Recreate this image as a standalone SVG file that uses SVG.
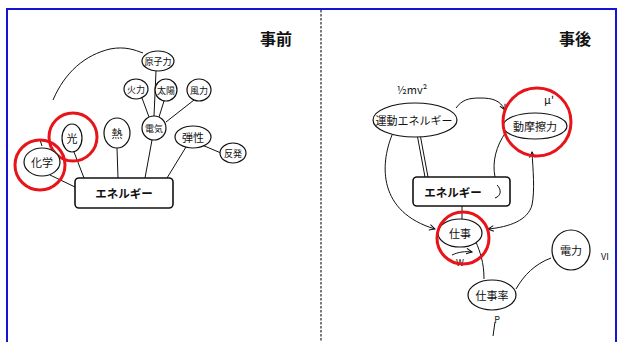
<svg xmlns="http://www.w3.org/2000/svg" width="619" height="342" viewBox="0 0 619 342">
<defs>
<style>
.bg{fill:#fff}
.frame{fill:none;stroke:#1414d8;stroke-width:2}
.div{stroke:#222;stroke-width:1.2;stroke-dasharray:2.5 1.5}
.nd{fill:#fff;stroke:#111;stroke-width:1.2}
.ln{fill:none;stroke:#111;stroke-width:1}
.red{fill:none;stroke:#e8141a;stroke-width:3}
.box{fill:#fff;stroke:#111;stroke-width:1.6}
.t{font-family:"Noto Sans CJK JP","Noto Sans",sans-serif;fill:#111;text-anchor:middle;dominant-baseline:central}
.title{font-size:16px;font-weight:bold}
.bt{font-size:11.5px;font-weight:bold}
.hw{font-size:11px}
.sm{font-size:9px}
</style>
<marker id="ah" viewBox="0 0 10 10" refX="9" refY="5" markerWidth="7" markerHeight="7" orient="auto-start-reverse" markerUnits="userSpaceOnUse">
<path d="M1,1 L9,5 L1,9" fill="none" stroke="#111" stroke-width="1.4"/>
</marker>
</defs>
<rect class="bg" x="0" y="0" width="619" height="342"/>
<path class="frame" d="M7,342 V9 H616 V342"/>
<line class="div" x1="321" y1="10" x2="321" y2="342"/>
<text class="t title" x="276" y="38">事前</text>
<text class="t title" x="575" y="38">事後</text>

<g id="connectors">
<path class="ln" d="M53,100 C65,72 85,55 110,49 C125,46 135,50 143,53"/>
<line class="ln" x1="156" y1="71" x2="154" y2="116"/>
<line class="ln" x1="142" y1="98" x2="149" y2="117"/>
<line class="ln" x1="164" y1="101" x2="159" y2="117"/>
<line class="ln" x1="194" y1="100" x2="166" y2="122"/>
<line class="ln" x1="202" y1="145" x2="221" y2="153"/>
<line class="ln" x1="50" y1="175" x2="75" y2="187"/>
<line class="ln" x1="74" y1="152" x2="84" y2="178"/>
<line class="ln" x1="40" y1="140" x2="42" y2="146"/>
<line class="ln" x1="117" y1="148" x2="118" y2="178"/>
<line class="ln" x1="152" y1="140" x2="145" y2="178"/>
<line class="ln" x1="186" y1="147" x2="167" y2="178"/>

<path class="ln" d="M456,108 C462,100 468,98 480,98 C492,98 500,100 505,110" marker-end="url(#ah)"/>
<path class="ln" d="M392,135 C380,165 378,212 435,229" marker-end="url(#ah)"/>
<line class="ln" x1="417" y1="134" x2="425" y2="177"/>
<line class="ln" x1="420" y1="134" x2="428" y2="177"/>
<path class="ln" d="M506,132 C496,146 492,162 495,177"/>
<path class="ln" d="M532,152 C533,170 535,190 532,205 C528,220 510,227 488,229" marker-start="url(#ah)" marker-end="url(#ah)"/>
<line class="ln" x1="462" y1="206" x2="462" y2="219"/>
<path class="ln" d="M476,242 C480,252 484,262 484,279"/>
<path class="ln" d="M452,255 C458,252 466,251 472,252" marker-end="url(#ah)"/>
<path class="ln" d="M551,258 C535,264 524,275 516,289"/>
<path class="ln" d="M495,322 L493,336"/>
</g>

<g id="n-genshiryoku"><ellipse class="nd" cx="158" cy="61" rx="16" ry="10"/><text class="t sm" x="158" y="61">原子力</text></g>
<g id="n-karyoku"><ellipse class="nd" cx="136" cy="89" rx="12" ry="10"/><text class="t sm" x="136" y="89">火力</text></g>
<g id="n-taiyo"><ellipse class="nd" cx="166" cy="90" rx="11" ry="11"/><text class="t sm" x="166" y="90">太陽</text></g>
<g id="n-furyoku"><ellipse class="nd" cx="199" cy="90" rx="12" ry="11"/><text class="t sm" x="199" y="90">風力</text></g>
<g id="n-denki"><ellipse class="nd" cx="154" cy="128" rx="12" ry="12"/><text class="t sm" x="154" y="128">電気</text></g>
<g id="n-netsu"><ellipse class="nd" cx="117" cy="133" rx="13" ry="15"/><text class="t hw" x="117" y="133">熱</text></g>
<g id="n-dansei"><ellipse class="nd" cx="193" cy="137" rx="18" ry="11"/><text class="t hw" x="193" y="137">弾性</text></g>
<g id="n-hanpatsu"><ellipse class="nd" cx="233" cy="153" rx="13" ry="10"/><text class="t sm" x="233" y="153">反発</text></g>
<g id="n-hikari"><ellipse class="nd" cx="72" cy="138" rx="10" ry="14"/><text class="t hw" x="72" y="138">光</text><circle class="red" cx="73" cy="137" r="24"/></g>
<g id="n-kagaku"><ellipse class="nd" cx="42" cy="162" rx="18" ry="14"/><text class="t hw" x="42" y="162">化学</text><circle class="red" cx="40" cy="165" r="25"/></g>
<g id="n-energy-l"><rect class="box" x="75" y="178" width="98" height="30" rx="4"/><text class="t bt" x="124" y="193">エネルギー</text></g>

<g id="n-undo"><ellipse class="nd" cx="415" cy="120" rx="42" ry="17"/><text class="t hw" x="414" y="120">運動エネルギー</text>
<text class="t hw" x="412" y="89">½mv²</text></g>
<g id="n-masatsu"><ellipse class="nd" cx="535" cy="126" rx="32" ry="13"/><text class="t hw" x="535" y="126">動摩擦力</text><text class="t hw" x="549" y="99">μ'</text><circle class="red" cx="537" cy="122" r="34"/></g>
<g id="n-energy-r"><rect class="box" x="413" y="177" width="97" height="29" rx="4"/><text class="t bt" x="453" y="192">エネルギー</text><path class="ln" d="M497,185 C502,190 501,196 495,198"/></g>
<g id="n-shigoto"><ellipse class="nd" cx="460" cy="233" rx="22" ry="14"/><text class="t hw" x="460" y="233">仕事</text><text class="t sm" x="460" y="262">W</text><circle class="red" cx="463" cy="238" r="26"/></g>
<g id="n-shigotoritsu"><ellipse class="nd" cx="492" cy="295" rx="24" ry="15"/><text class="t hw" x="492" y="295">仕事率</text><text class="t sm" x="497" y="319">P</text></g>
<g id="n-denryoku"><ellipse class="nd" cx="571" cy="250" rx="19" ry="20"/><text class="t hw" x="571" y="250">電力</text><text class="t sm" x="605" y="256">VI</text></g>
</svg>
